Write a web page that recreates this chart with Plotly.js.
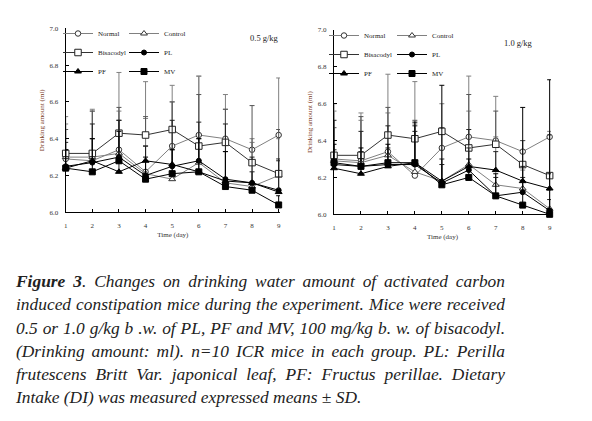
<!DOCTYPE html>
<html><head><meta charset="utf-8">
<script src="https://cdn.plot.ly/plotly-3.0.1.min.js"></script>
<style>
html,body{margin:0;padding:0;background:#fff;}
#chart{position:absolute;left:0;top:0;width:592px;height:421px;}
#caption{position:absolute;left:16px;top:270px;width:489px;font-family:"Liberation Serif","Times New Roman",Times,"Nimbus Roman","DejaVu Serif",serif;font-style:italic;font-size:17.4px;line-height:23.3px;color:#222;}
#caption .j{display:block;text-align:justify;text-align-last:justify;}
#caption .l{display:block;text-align:left;}
</style></head>
<body>
<div id="chart"></div>
<div id="caption">
<span class="j"><b>Figure 3</b>. Changes on drinking water amount of activated carbon</span>
<span class="j">induced constipation mice during the experiment. Mice were received</span>
<span class="j">0.5 or 1.0 g/kg b .w. of PL, PF and MV, 100 mg/kg b. w. of bisacodyl.</span>
<span class="j">(Drinking amount: ml). n=10 ICR mice in each group. PL: Perilla</span>
<span class="j">frutescens Britt Var. japonical leaf, PF: Fructus perillae. Dietary</span>
<span class="l">Intake (DI) was measured expressed means ± SD.</span>
</div>
<script>
// ---- data ----
const days = [1, 2, 3, 4, 5, 6, 7, 8, 9];
const groups = ['Normal', 'Control', 'Bisacodyl', 'PL', 'PF', 'MV'];

// 0.5 g/kg panel (means, ml)
const normal05 = [6.29, 6.28, 6.34, 6.22, 6.36, 6.42, 6.40, 6.34, 6.42];
const control05 = [6.30, 6.30, 6.32, 6.21, 6.18, 6.27, 6.16, 6.14, 6.20];
const bisa05 = [6.32, 6.32, 6.43, 6.42, 6.45, 6.36, 6.38, 6.27, 6.21];
const pl05 = [6.25, 6.27, 6.30, 6.20, 6.25, 6.28, 6.18, 6.16, 6.12];
const pf05 = [6.24, 6.28, 6.22, 6.28, 6.26, 6.22, 6.17, 6.16, 6.11];
const mv05 = [6.24, 6.22, 6.28, 6.18, 6.21, 6.22, 6.14, 6.12, 6.04];
// 0.5 g/kg panel (SD)
const normal05sd = [0.23, 0.28, 0.42, 0.49, 0.33, 0.32, 0.24, 0.06, 0.31];
const control05sd = [0.18, 0.25, 0.23, 0.30, 0.42, 0.47, 0.40, 0.24, 0.20];
const bisa05sd = [0.13, 0.23, 0.14, 0.10, 0.15, 0.28, 0.18, 0.31, 0.24];
const pl05sd = [0.13, 0.21, 0.20, 0.16, 0.25, 0.21, 0.30, 0.14, 0.17];
const pf05sd = [0.10, 0.12, 0.28, 0.08, 0.08, 0.18, 0.16, 0.06, 0.17];
const mv05sd = [0.10, 0.18, 0.16, 0.12, 0.13, 0.18, 0.19, 0.04, 0.05];

// 1.0 g/kg panel (means, ml)
const normal10 = [6.30, 6.29, 6.34, 6.21, 6.36, 6.42, 6.40, 6.34, 6.42];
const control10 = [6.29, 6.28, 6.32, 6.23, 6.18, 6.27, 6.16, 6.14, 6.03];
const bisa10 = [6.32, 6.32, 6.43, 6.41, 6.45, 6.36, 6.38, 6.27, 6.21];
const pl10 = [6.27, 6.26, 6.27, 6.27, 6.17, 6.24, 6.10, 6.12, 6.02];
const pf10 = [6.25, 6.22, 6.26, 6.28, 6.18, 6.26, 6.24, 6.18, 6.14];
const mv10 = [6.28, 6.26, 6.28, 6.28, 6.16, 6.20, 6.10, 6.05, 6.00];
// 1.0 g/kg panel (SD)
const normal10sd = [0.30, 0.26, 0.42, 0.28, 0.24, 0.33, 0.24, 0.06, 0.03];
const control10sd = [0.27, 0.23, 0.23, 0.49, 0.27, 0.29, 0.26, 0.10, 0.10];
const bisa10sd = [0.15, 0.21, 0.15, 0.10, 0.02, 0.29, 0.18, 0.13, 0.22];
const pl10sd = [0.24, 0.19, 0.21, 0.18, 0.10, 0.22, 0.10, 0.08, 0.06];
const pf10sd = [0.10, 0.12, 0.10, 0.20, 0.12, 0.10, 0.10, 0.08, 0.08];
const mv10sd = [0.10, 0.10, 0.10, 0.22, 0.54, 0.10, 0.12, 0.53, 0.73];

const xTickLabels = ['1', '2', '3', '4', '5', '6', '7', '8', '9'];
const panelLabels = ['0.5 g/kg', '1.0 g/kg'];

// ---- styles ----
const styles = {
  Normal:    {symbol: 'circle', size: 5.5, fill: '#fff', line: '#808080', edge: '#333', err: '#808080'},
  Control:   {symbol: 'triangle-up', size: 6, fill: '#fff', line: '#808080', edge: '#333', err: '#808080'},
  Bisacodyl: {symbol: 'square', size: 6.5, fill: '#fff', line: '#333', edge: '#222', err: '#555'},
  PL:        {symbol: 'circle', size: 5, fill: '#000', line: '#000', edge: '#000', err: '#222'},
  PF:        {symbol: 'triangle-up', size: 6, fill: '#000', line: '#000', edge: '#000', err: '#222'},
  MV:        {symbol: 'square', size: 6, fill: '#000', line: '#000', edge: '#000', err: '#000'}
};

const legendOf = [
  {Normal: 'legend', Bisacodyl: 'legend', PF: 'legend', Control: 'legend2', PL: 'legend2', MV: 'legend2'},
  {Normal: 'legend3', Bisacodyl: 'legend3', PF: 'legend3', Control: 'legend4', PL: 'legend4', MV: 'legend4'}
];

const panels = [
  {xa: 'x', ya: 'y', means: [normal05, control05, bisa05, pl05, pf05, mv05], sds: [normal05sd, control05sd, bisa05sd, pl05sd, pf05sd, mv05sd]},
  {xa: 'x2', ya: 'y2', means: [normal10, control10, bisa10, pl10, pf10, mv10], sds: [normal10sd, control10sd, bisa10sd, pl10sd, pf10sd, mv10sd]}
];

const traces = [];
panels.forEach((p, pi) => {
  groups.forEach((g, gi) => {
    const s = styles[g];
    traces.push({
      type: 'scatter', mode: 'lines+markers', name: g,
      x: days, y: p.means[gi], xaxis: p.xa, yaxis: p.ya,
      legend: legendOf[pi][g],
      line: {color: s.line, width: 1},
      marker: {symbol: s.symbol, size: s.size, color: s.fill, line: {color: s.edge, width: 1}},
      error_y: {type: 'data', symmetric: false, array: p.sds[gi], arrayminus: days.map(() => 0),
                color: s.err, thickness: 1, width: 2.5},
      cliponaxis: false
    });
  });
});

const font = '"Liberation Serif", "Times New Roman", Times, "Nimbus Roman", "DejaVu Serif", serif';
const tickFont = {family: font, size: 7, color: '#333'};
function xAxis(domain, anchor) {
  return {domain: domain, anchor: anchor, range: [1, 9.05], tickvals: days, ticktext: xTickLabels,
    ticks: 'inside', ticklen: 3, tickcolor: '#000', showline: true, linecolor: '#000', linewidth: 1,
    showgrid: false, zeroline: false, tickfont: tickFont, ticklabelstandoff: 6,
    title: {text: 'Time (day)', font: {family: font, size: 7, color: '#333'}, standoff: 3}};
}
function yAxis(domain, anchor) {
  return {domain: domain, anchor: anchor, range: [6, 7], dtick: 0.2, tickformat: '.1f',
    ticks: 'inside', ticklen: 3, tickcolor: '#000', showline: true, linecolor: '#000', linewidth: 1,
    showgrid: false, zeroline: false, tickfont: tickFont, ticklabelstandoff: 5,
    title: {text: 'Drinking amount (ml)', font: {family: font, size: 7, color: '#7a3b1e'}, standoff: 4}};
}
function legendBox(x, y) {
  return {x: x, y: y, xanchor: 'left', yanchor: 'top', bgcolor: 'rgba(0,0,0,0)',
    font: {family: font, size: 7, color: '#222'}, tracegroupgap: 0, itemwidth: 30};
}

const layout = {
  width: 592, height: 421, margin: {l: 0, r: 0, t: 0, b: 0},
  paper_bgcolor: '#fff', plot_bgcolor: '#fff',
  xaxis: xAxis([65.7 / 592, 280 / 592], 'y'),
  yaxis: yAxis([(421 - 212.3) / 421, (421 - 28.3) / 421], 'x'),
  xaxis2: xAxis([334 / 592, 551 / 592], 'y2'),
  yaxis2: yAxis([(421 - 214.3) / 421, (421 - 30) / 421], 'x2'),
  legend: legendBox(58 / 592, (421 - 19) / 421),
  legend2: legendBox(124 / 592, (421 - 19) / 421),
  legend3: legendBox(324 / 592, (421 - 21) / 421),
  legend4: legendBox(392 / 592, (421 - 21) / 421),
  annotations: [
    {text: panelLabels[0], xref: 'paper', yref: 'paper', x: 264.5 / 592, y: (421 - 31) / 421,
     showarrow: false, font: {family: font, size: 8.5, color: '#222'}},
    {text: panelLabels[1], xref: 'paper', yref: 'paper', x: 534.5 / 592, y: (421 - 36.5) / 421,
     showarrow: false, font: {family: font, size: 8.5, color: '#222'}}
  ],
  showlegend: true
};

Plotly.newPlot('chart', traces, layout, {staticPlot: true, displayModeBar: false});

// keep each caption line on one line (shrink font slightly if a fallback font is wider)
(function fitCaption() {
  const cap = document.getElementById('caption');
  let size = 17.4;
  const lines = cap.querySelectorAll('span');
  for (let k = 0; k < 30; k++) {
    let wraps = false;
    lines.forEach(el => { if (el.getBoundingClientRect().height > 30) wraps = true; });
    if (!wraps) break;
    size -= 0.2;
    cap.style.fontSize = size + 'px';
  }
})();
</script>
</body></html>
